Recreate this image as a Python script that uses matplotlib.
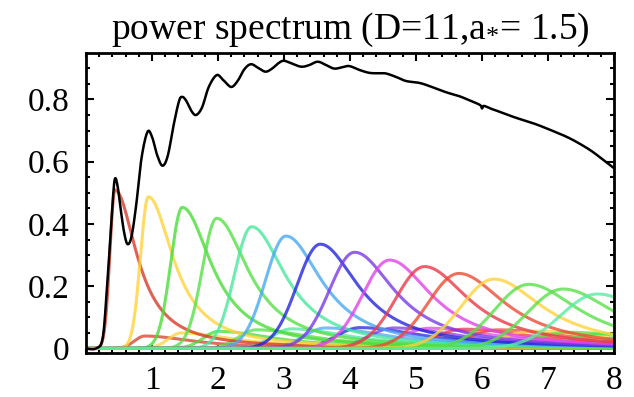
import numpy as np
import matplotlib
matplotlib.use("Agg")
import matplotlib.pyplot as plt
from matplotlib.ticker import MultipleLocator, FixedLocator

plt.rcParams['font.family'] = ['Liberation Serif', 'DejaVu Serif']
plt.rcParams['mathtext.fontset'] = 'custom'
plt.rcParams['mathtext.rm'] = 'Liberation Serif'
plt.rcParams['mathtext.it'] = 'Liberation Serif:italic'

# ---- data ----
# total power spectrum (black)
total_x = [0.0, 0.15, 0.25, 0.31, 0.37, 0.41, 0.44, 0.48, 0.53, 0.58, 0.63, 0.69, 0.76,
           0.84, 0.93, 1.0, 1.08, 1.16, 1.24, 1.33, 1.41, 1.46, 1.52, 1.60, 1.67, 1.76,
           1.86, 1.98, 2.08, 2.20, 2.30, 2.40, 2.50, 2.61, 2.72, 2.82, 2.92, 3.00, 3.12,
           3.26, 3.38, 3.51, 3.64, 3.76, 3.88, 3.99, 4.15, 4.30, 4.45, 4.55, 4.70, 4.85,
           5.05, 5.20, 5.36, 5.50, 5.66, 5.82, 5.97, 6.00, 6.03, 6.15, 6.27, 6.50, 6.78,
           7.00, 7.28, 7.46, 7.64, 7.80, 7.97, 8.0]
total_y = [0.0, 0.0, 0.03, 0.17, 0.36, 0.49, 0.546, 0.52, 0.44, 0.37, 0.335, 0.36, 0.46,
           0.61, 0.695, 0.68, 0.62, 0.587, 0.62, 0.72, 0.795, 0.808, 0.795, 0.762, 0.75, 0.775,
           0.84, 0.878, 0.862, 0.84, 0.86, 0.897, 0.913, 0.901, 0.889, 0.899, 0.917, 0.924, 0.915,
           0.905, 0.91, 0.921, 0.91, 0.899, 0.903, 0.907, 0.894, 0.885, 0.884, 0.883, 0.872, 0.859,
           0.853, 0.843, 0.83, 0.82, 0.81, 0.796, 0.782, 0.771, 0.779, 0.769, 0.76, 0.742, 0.723,
           0.705, 0.68, 0.66, 0.637, 0.612, 0.584, 0.579]

# individual modes: peak position, peak height, left/right widths
peak_x = [0.44, 0.945, 1.46, 1.98, 2.51, 3.03, 3.55, 4.07, 4.60, 5.13, 5.65, 6.18, 6.71, 7.23, 7.75]
peak_h = [0.509, 0.487, 0.453, 0.418, 0.391, 0.361, 0.335, 0.309, 0.284, 0.263, 0.241, 0.223,
          0.206, 0.191, 0.175]
left_w = [0.11, 0.17, 0.25, 0.31, 0.37, 0.44, 0.50, 0.54, 0.58, 0.62, 0.66, 0.70, 0.73, 0.76, 0.79]
right_w = [0.40, 0.46, 0.54, 0.59, 0.63, 0.67, 0.71, 0.75, 0.79, 0.83, 0.87, 0.91, 0.95, 0.99, 1.03]
# secondary (broad, low) humps of each mode
sec_dx = [0.45, 0.5, 0.55, 0.6, 0.6, 0.6, 0.6, 0.6, 0.6, 0.6, 0.6, 0.6, 0.6, 0.6, 0.6]
sec_h = [0.040, 0.050, 0.055, 0.060, 0.063, 0.066, 0.067, 0.066, 0.065, 0.062, 0.060, 0.056,
         0.052, 0.047, 0.043]
sec_lw = [0.22, 0.28, 0.33, 0.38, 0.42, 0.46, 0.50, 0.54, 0.58, 0.62, 0.66, 0.70, 0.74, 0.78, 0.82]
sec_rw = [0.9, 1.0, 1.05, 1.1, 1.15, 1.2, 1.25, 1.3, 1.35, 1.4, 1.45, 1.5, 1.55, 1.6, 1.65]

colors = ['#d63c2a', '#ffd23a', '#48dc36', '#55e046', '#48e89c', '#48a8f0', '#2424dc',
          '#7a3ae6', '#e044e8', '#ec3848', '#ec4c34', '#ffd23a', '#58e048', '#58e048', '#58eca4']

x_ticks = [1, 2, 3, 4, 5, 6, 7, 8]
y_ticks = [0, 0.2, 0.4, 0.6, 0.8]
y_tick_labels = ['0', '0.2', '0.4', '0.6', '0.8']
title = r'power spectrum (D=11,a$_{\mathrm{*}}$= 1.5)'


def bump(x, c, h, wl, wr):
    d = x - c
    left = np.exp(-(d / wl) ** 2)
    right = 1.0 / (1.0 + (d / wr) ** 2)
    return h * np.where(d < 0, left, right)


def catmull(xs, ys, n=12):
    xs = np.asarray(xs, float)
    ys = np.asarray(ys, float)
    px = np.concatenate([[xs[0]], xs, [xs[-1]]])
    py = np.concatenate([[ys[0]], ys, [ys[-1]]])
    ox, oy = [], []
    t = np.linspace(0, 1, n, endpoint=False)
    for i in range(1, len(px) - 2):
        for arr, out in ((px, ox), (py, oy)):
            p0, p1, p2, p3 = arr[i - 1], arr[i], arr[i + 1], arr[i + 2]
            out.extend(0.5 * ((2 * p1) + (-p0 + p2) * t + (2 * p0 - 5 * p1 + 4 * p2 - p3) * t ** 2
                              + (-p0 + 3 * p1 - 3 * p2 + p3) * t ** 3))
    ox.append(xs[-1])
    oy.append(ys[-1])
    return np.array(ox), np.array(oy)


fig = plt.figure(figsize=(6.34, 3.97), dpi=100)
ax = fig.add_axes([86 / 634, 1 - 353 / 397, (614 - 86) / 634, (353 - 53) / 397])

xs = np.linspace(0, 8, 1200)
for i in range(len(peak_x)):
    s = bump(xs, peak_x[i] + sec_dx[i], sec_h[i], sec_lw[i], sec_rw[i])
    s = s * np.clip((xs - (peak_x[i] - 0.25)) / 0.25, 0, 1)
    ax.plot(xs, s, color=colors[i], lw=2.2, alpha=0.75, solid_capstyle='round')
for i in range(len(peak_x)):
    y = bump(xs, peak_x[i], peak_h[i], left_w[i], right_w[i])
    ax.plot(xs, y, color=colors[i], lw=2.2, alpha=0.8, solid_capstyle='round')

bx, by = catmull(total_x, total_y)
ax.plot(bx, by, color='black', lw=1.8)

ax.set_xlim(0, 8)
ax.set_ylim(-0.0145, 0.949)
ax.xaxis.set_major_locator(FixedLocator(x_ticks))
ax.xaxis.set_minor_locator(MultipleLocator(0.2))
ax.yaxis.set_major_locator(FixedLocator(y_ticks))
ax.set_yticklabels(y_tick_labels)
ax.yaxis.set_minor_locator(MultipleLocator(0.05))
ax.tick_params(which='both', direction='in', top=True, right=True, width=1.5, labelsize=24)
ax.tick_params(which='major', length=6)
ax.tick_params(which='minor', length=3)
ax.tick_params(axis='x', pad=9)
ax.tick_params(axis='y', pad=12)
for sp in ax.spines.values():
    sp.set_linewidth(2)
ax.set_title(title, fontsize=27, pad=10)

fig.savefig('out.png', dpi=100)
